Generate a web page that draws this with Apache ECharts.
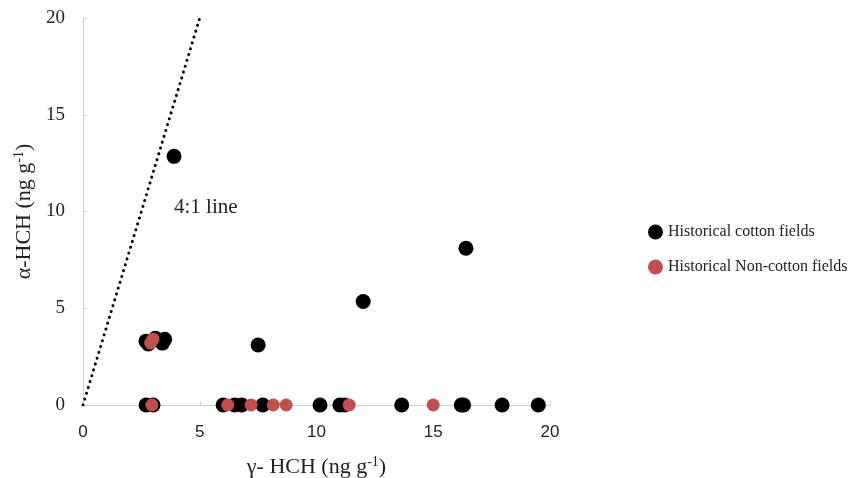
<!DOCTYPE html>
<html><head><meta charset="utf-8">
<script src="https://cdn.jsdelivr.net/npm/echarts@6/dist/echarts.min.js"></script>
<style>html,body{margin:0;padding:0;background:#fff}#c{width:861px;height:478px}</style>
</head><body><div id="c"></div>
<script>
var cottonPoints = [
  [3.9, 12.85], [16.4, 8.1], [12.0, 5.35], [7.5, 3.1],
  [2.7, 3.3], [3.1, 3.45], [3.4, 3.2], [3.5, 3.4], [2.8, 3.15],
  [2.7, 0], [3.0, 0], [6.0, 0], [6.5, 0], [6.8, 0], [7.7, 0],
  [10.15, 0], [11.0, 0], [11.2, 0], [13.65, 0], [16.2, 0], [16.3, 0], [17.95, 0], [19.5, 0]
];
var nonCottonPoints = [
  [2.9, 3.2], [3.0, 3.4],
  [2.95, 0], [6.2, 0], [7.2, 0], [8.15, 0], [8.7, 0], [11.4, 0], [15.0, 0]
];
var ratioLine = [[0, 0], [5, 20]];
var seriesNames = ['Historical cotton fields', 'Historical Non-cotton fields'];
var lineLabel = '4:1 line';

var chart = echarts.init(document.getElementById('c'));
var serif = 'Liberation Serif';
var axisCol = '#d0d0d0';
chart.setOption({
  animation: false,
  grid: { left: 83, right: 311, top: 18, bottom: 73, outerBoundsMode: 'none', containLabel: false },
  xAxis: {
    type: 'value', min: 0, max: 20, interval: 5,
    axisLine: { show: true, lineStyle: { color: axisCol, width: 1 } },
    axisTick: { show: true, inside: true, length: 4, lineStyle: { color: axisCol } },
    splitLine: { show: false },
    axisLabel: { color: '#222', fontFamily: 'Liberation Sans', fontSize: 17, margin: 19 },
    name: 'γ- HCH (ng g{sup|-1})', nameLocation: 'middle', nameGap: 50,
    nameTextStyle: { color: '#222', fontFamily: serif, fontSize: 22,
      rich: { sup: { fontFamily: serif, fontSize: 14, color: '#222', verticalAlign: 'top', padding: [0, 0, 10, 0] } } }
  },
  yAxis: {
    type: 'value', min: 0, max: 20, interval: 5,
    axisLine: { show: true, lineStyle: { color: axisCol, width: 1 } },
    axisTick: { show: true, inside: true, length: 4, lineStyle: { color: axisCol } },
    splitLine: { show: false },
    axisLabel: { color: '#222', fontFamily: serif, fontSize: 19, margin: 18 },
    name: 'α-HCH (ng g{sup|-1})', nameLocation: 'middle', nameGap: 46, nameRotate: 90,
    nameTextStyle: { color: '#222', fontFamily: serif, fontSize: 22,
      rich: { sup: { fontFamily: serif, fontSize: 14, color: '#222', verticalAlign: 'top', padding: [0, 0, 10, 0] } } }
  },
  legend: {
    orient: 'vertical', left: 643, top: 219, itemGap: 19,
    data: seriesNames, icon: 'circle', itemWidth: 15, itemHeight: 15,
    textStyle: { fontFamily: serif, fontSize: 16, color: '#222' }
  },
  graphic: [{
    type: 'text', left: 174, top: 197,
    style: { text: lineLabel, fontFamily: serif, fontSize: 21, fill: '#222' }
  }],
  series: [
    { type: 'line', data: ratioLine, symbol: 'none', silent: true,
      lineStyle: { color: '#000', width: 3, type: [0.1, 6], cap: 'round' } },
    { name: seriesNames[0], type: 'scatter', data: cottonPoints, symbolSize: 15,
      itemStyle: { color: '#000', opacity: 1 } },
    { name: seriesNames[1], type: 'scatter', data: nonCottonPoints, symbolSize: 13,
      itemStyle: { color: '#C0504D', opacity: 1 } }
  ]
});
</script></body></html>
